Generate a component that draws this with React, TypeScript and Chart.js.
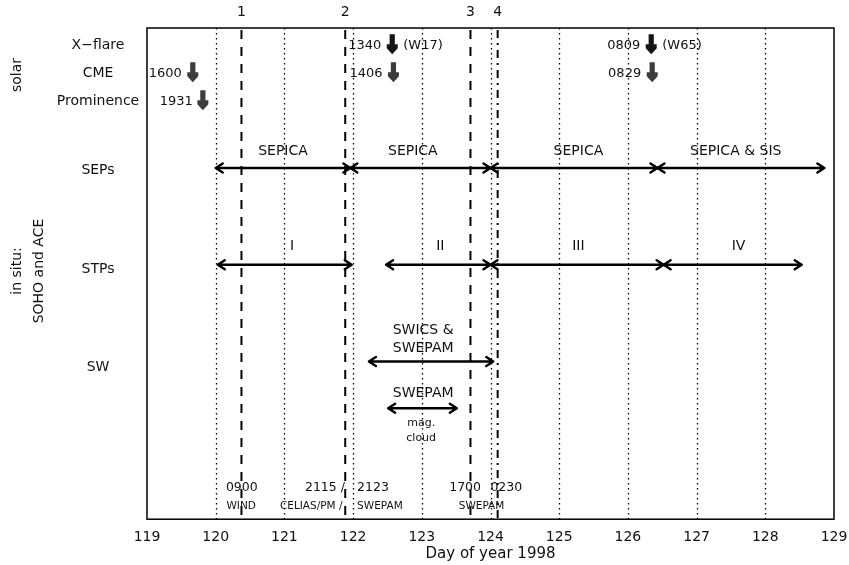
import { useEffect, useRef } from 'react';
import { Chart, registerables } from 'chart.js';

Chart.register(...registerables);

// Day-of-year plus an "hhmm" UT time as a fractional day
const toDay = (doy: number, hhmm: string) =>
  doy + Number(hhmm.slice(0, 2)) / 24 + Number(hhmm.slice(2)) / 1440;

// x axis
const dayMin = 119;
const dayMax = 129;
const gridDays = [120, 121, 122, 123, 124, 125, 126, 127, 128];

// numbered boundaries
const eventLabels = ['1', '2', '3', '4'];
const eventDays = [toDay(120, '0900'), toDay(121, '2115'), toDay(123, '1700'), toDay(124, '0230')];

// solar events
const flareTimes = ['1340', '0809'];
const flareDays = [toDay(122, '1340'), toDay(126, '0809')];
const flareClasses = ['(W17)', '(W65)'];
const cmeTimes = ['1600', '1406', '0829'];
const cmeDays = [toDay(119, '1600'), toDay(122, '1406'), toDay(126, '0829')];
const prominenceTimes = ['1931'];
const prominenceDays = [toDay(119, '1931')];

// SEP intervals
const sepBounds = [120.0, 121.96, 124.0, 126.43, 128.86];
const sepLabels = ['SEPICA', 'SEPICA', 'SEPICA', 'SEPICA & SIS'];
const sepLabelDays = [120.98, 122.87, 125.28, 127.57];

// STP intervals
const stpStarts = [120.03, 122.48, 124.0, 126.52];
const stpEnds = [121.98, 124.0, 126.52, 128.53];
const stpLabels = ['I', 'II', 'III', 'IV'];
const stpLabelDays = [121.11, 123.27, 125.28, 127.61];

// solar wind intervals
const swStarts = [122.23, 122.51];
const swEnds = [124.04, 123.51];
const swLabelDays = [123.02, 123.02];

// times and instruments under the boundaries
const timeTexts = ['0900', '2115 /', '2123', '1700', '0230'];
const timeDays = [120.38, 121.59, 122.29, 123.63, 124.23];
const instrumentTexts = ['WIND', 'CELIAS/PM /', 'SWEPAM', 'SWEPAM'];
const instrumentDays = [120.37, 121.39, 122.39, 123.87];

// row positions on the hidden vertical scale (0 = top, 10 = bottom)
const ROW = {
  flare: 0.35,
  cme: 0.92,
  prominence: 1.49,
  sepLabel: 2.52,
  sep: 2.85,
  stpLabel: 4.45,
  stp: 4.82,
  swLine1: 6.16,
  swLine2: 6.53,
  sw: 6.79,
  magLabel: 7.44,
  mag: 7.74,
  magNote1: 8.05,
  magNote2: 8.34,
  times: 9.35,
  instruments: 9.74,
};

const leftRows = [
  { text: 'X\u2212flare', y: 0.35 },
  { text: 'CME', y: 0.92 },
  { text: 'Prominence', y: 1.49 },
  { text: 'SEPs', y: 2.89 },
  { text: 'STPs', y: 4.92 },
  { text: 'SW', y: 6.9 },
];

// dash pattern of each numbered boundary line
const eventDashes = [
  [9, 8],
  [9, 8],
  [9, 8],
  [8, 5, 2, 5],
];

const FONT = '"DejaVu Sans", "Liberation Sans", sans-serif';
const INK = '#111';

function downArrow(ctx: CanvasRenderingContext2D, x: number, yc: number, color: string) {
  const top = yc - 11;
  ctx.save();
  ctx.fillStyle = color;
  ctx.beginPath();
  ctx.moveTo(x - 2.6, top);
  ctx.lineTo(x + 2.6, top);
  ctx.lineTo(x + 2.6, top + 10);
  ctx.lineTo(x + 5.5, top + 10);
  ctx.lineTo(x + 5.5, top + 14);
  ctx.lineTo(x, top + 20);
  ctx.lineTo(x - 5.5, top + 14);
  ctx.lineTo(x - 5.5, top + 10);
  ctx.lineTo(x - 2.6, top + 10);
  ctx.closePath();
  ctx.fill();
  ctx.restore();
}

function hArrow(ctx: CanvasRenderingContext2D, x1: number, x2: number, y: number) {
  ctx.save();
  ctx.strokeStyle = '#000';
  ctx.lineWidth = 2.4;
  ctx.lineCap = 'round';
  ctx.lineJoin = 'round';
  ctx.beginPath();
  ctx.moveTo(x1, y);
  ctx.lineTo(x2, y);
  ctx.moveTo(x1 + 7, y - 4.5);
  ctx.lineTo(x1, y);
  ctx.lineTo(x1 + 7, y + 4.5);
  ctx.moveTo(x2 - 7, y - 4.5);
  ctx.lineTo(x2, y);
  ctx.lineTo(x2 - 7, y + 4.5);
  ctx.stroke();
  ctx.restore();
}

function text(
  ctx: CanvasRenderingContext2D,
  s: string,
  x: number,
  y: number,
  size: number,
  align: CanvasTextAlign = 'center'
) {
  ctx.save();
  ctx.font = `${size}px ${FONT}`;
  ctx.fillStyle = INK;
  ctx.textAlign = align;
  ctx.textBaseline = 'middle';
  ctx.fillText(s, x, y);
  ctx.restore();
}

const timelinePlugin = {
  id: 'timeline',
  afterDraw(chart: any) {
    const { ctx, chartArea: a, scales } = chart;
    const X = (d: number) => scales.x.getPixelForValue(d);
    const Y = (v: number) => scales.y.getPixelForValue(v);

    // daily dotted lines
    ctx.save();
    ctx.strokeStyle = '#000';
    ctx.lineWidth = 1.3;
    ctx.setLineDash([1.5, 3.5]);
    gridDays.forEach((d) => {
      const x = Math.round(X(d)) + 0.5;
      ctx.beginPath();
      ctx.moveTo(x, a.top);
      ctx.lineTo(x, a.bottom);
      ctx.stroke();
    });
    ctx.restore();

    // numbered boundaries
    eventDays.forEach((d, i) => {
      const x = X(d);
      ctx.save();
      ctx.strokeStyle = '#000';
      ctx.lineWidth = 2;
      ctx.setLineDash(eventDashes[i]);
      ctx.beginPath();
      ctx.moveTo(x, a.top + 2);
      ctx.lineTo(x, a.bottom);
      ctx.stroke();
      ctx.restore();
      text(ctx, eventLabels[i], x, a.top - 16, 14);
    });

    // frame
    ctx.save();
    ctx.strokeStyle = '#000';
    ctx.lineWidth = 1.5;
    ctx.strokeRect(a.left, a.top, a.right - a.left, a.bottom - a.top);
    ctx.restore();

    // row titles
    leftRows.forEach((r) => text(ctx, r.text, 98, Y(r.y), 14));
    ctx.save();
    ctx.translate(17, 75);
    ctx.rotate(-Math.PI / 2);
    text(ctx, 'solar', 0, 0, 14);
    ctx.restore();
    ctx.save();
    ctx.translate(17, 271);
    ctx.rotate(-Math.PI / 2);
    text(ctx, 'in situ:', 0, 0, 14);
    text(ctx, 'SOHO and ACE', 0, 22, 14);
    ctx.restore();

    // solar events
    flareDays.forEach((d, i) => {
      const x = X(d);
      const y = Y(ROW.flare);
      downArrow(ctx, x, y, '#141414');
      text(ctx, flareTimes[i], x - 11, y, 13, 'right');
      text(ctx, flareClasses[i], x + 11, y, 13, 'left');
    });
    cmeDays.forEach((d, i) => {
      const x = X(d);
      const y = Y(ROW.cme);
      downArrow(ctx, x, y, '#3c3c3c');
      text(ctx, cmeTimes[i], x - 11, y, 13, 'right');
    });
    prominenceDays.forEach((d, i) => {
      const x = X(d);
      const y = Y(ROW.prominence);
      downArrow(ctx, x, y, '#3c3c3c');
      text(ctx, prominenceTimes[i], x - 10, y, 13, 'right');
    });

    // SEPs
    for (let i = 0; i < sepLabels.length; i++) {
      hArrow(ctx, X(sepBounds[i]), X(sepBounds[i + 1]), Y(ROW.sep));
      text(ctx, sepLabels[i], X(sepLabelDays[i]), Y(ROW.sepLabel), 14);
    }

    // STPs
    stpLabels.forEach((s, i) => {
      hArrow(ctx, X(stpStarts[i]), X(stpEnds[i]), Y(ROW.stp));
      text(ctx, s, X(stpLabelDays[i]), Y(ROW.stpLabel), 14);
    });

    // solar wind
    hArrow(ctx, X(swStarts[0]), X(swEnds[0]), Y(ROW.sw));
    text(ctx, 'SWICS &', X(swLabelDays[0]), Y(ROW.swLine1), 14);
    text(ctx, 'SWEPAM', X(swLabelDays[0]), Y(ROW.swLine2), 14);
    hArrow(ctx, X(swStarts[1]), X(swEnds[1]), Y(ROW.mag));
    text(ctx, 'SWEPAM', X(swLabelDays[1]), Y(ROW.magLabel), 14);
    text(ctx, 'mag.', X(swLabelDays[1]) - 2, Y(ROW.magNote1), 11);
    text(ctx, 'cloud', X(swLabelDays[1]) - 2, Y(ROW.magNote2), 11);

    // times and instruments
    timeTexts.forEach((s, i) => text(ctx, s, X(timeDays[i]), Y(ROW.times), 12.5));
    instrumentTexts.forEach((s, i) => text(ctx, s, X(instrumentDays[i]), Y(ROW.instruments), 10.5));
  },
};

export default function App() {
  const canvasRef = useRef<HTMLCanvasElement | null>(null);

  useEffect(() => {
    if (!canvasRef.current) return;
    const chart = new Chart(canvasRef.current, {
      type: 'scatter',
      data: { datasets: [{ data: [], pointRadius: 0 }] },
      options: {
        responsive: false,
        animation: false,
        events: [],
        layout: { padding: { left: 147, right: 15, top: 28, bottom: 0 } },
        plugins: { legend: { display: false }, tooltip: { enabled: false } },
        scales: {
          x: {
            type: 'linear',
            min: dayMin,
            max: dayMax,
            grid: { display: false, drawTicks: false, tickLength: 0 },
            border: { display: false },
            afterFit: (scale: any) => {
              // keep the end labels from shrinking the plot box
              scale.paddingLeft = 0;
              scale.paddingRight = 0;
            },
            ticks: {
              stepSize: 1,
              padding: 10,
              color: INK,
              font: { family: FONT, size: 14, lineHeight: 1.2 },
              maxRotation: 0,
            },
            title: {
              display: true,
              text: 'Day of year 1998',
              color: INK,
              padding: { top: -10.5, bottom: 1.5 },
              font: { family: FONT, size: 15, lineHeight: 1.2 },
            },
          },
          y: { display: false, min: 0, max: 10, reverse: true },
        },
      },
      plugins: [timelinePlugin],
    });
    return () => chart.destroy();
  }, []);

  return (
    <div style={{ position: 'fixed', left: 0, top: 0, width: 849, height: 565, background: '#fff' }}>
      <canvas ref={canvasRef} width={849} height={565} style={{ display: 'block' }} />
    </div>
  );
}
